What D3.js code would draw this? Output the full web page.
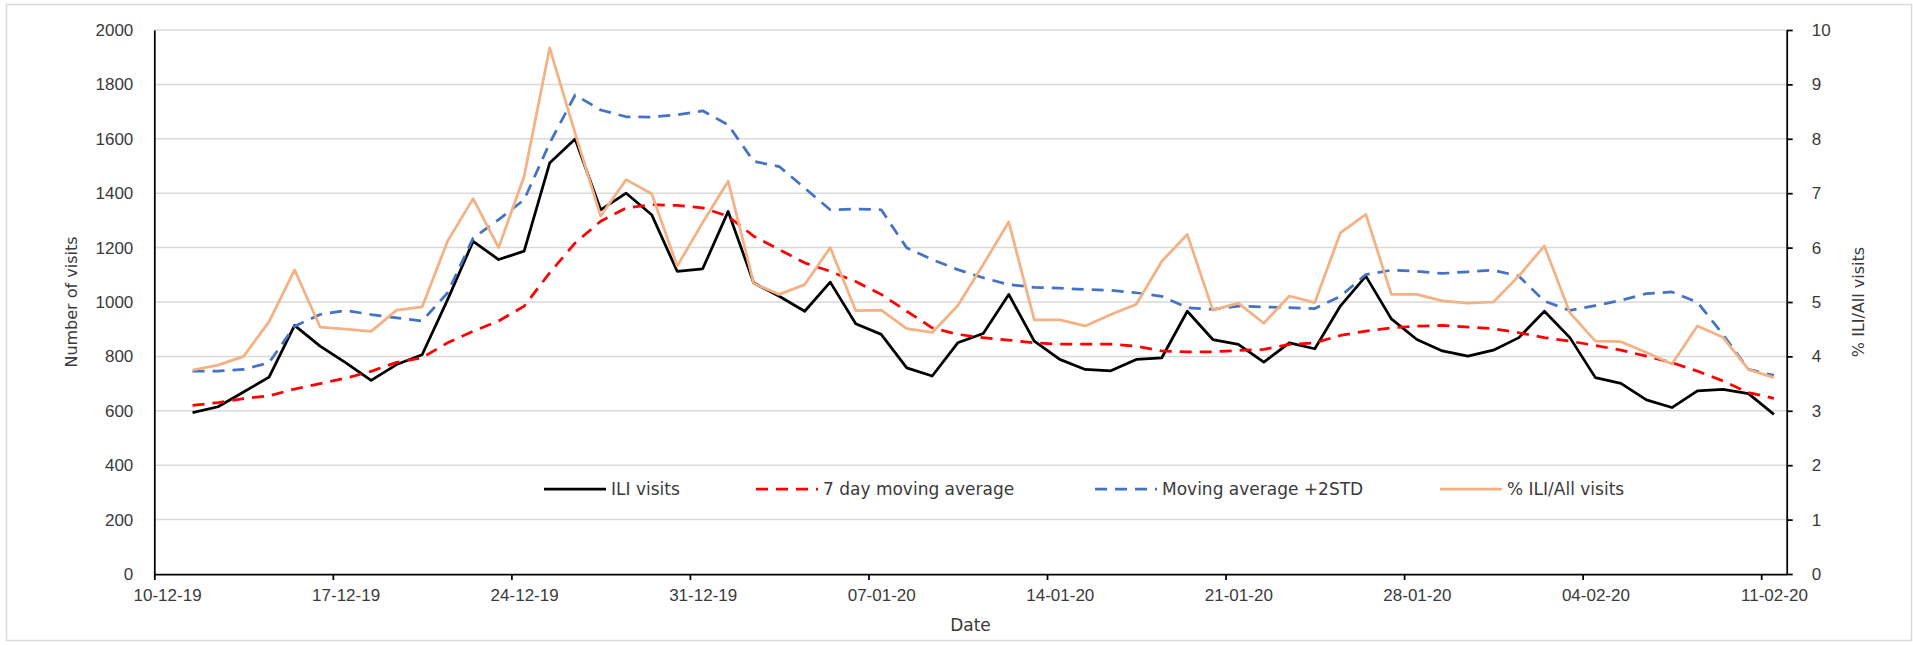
<!DOCTYPE html>
<html>
<head>
<meta charset="utf-8">
<script src="https://cdn.jsdelivr.net/npm/d3@7"></script>
<style>
	body { margin: 0; background: #fff; }
	svg { display: block; font-family: "DejaVu Sans", Verdana, sans-serif; }
</style>
</head>
<body>
<svg id="chart"></svg>
<script>
// daily values, 11-12-19 .. 11-02-20
const iliVisits = [
	593, 615, 669, 724, 914, 838, 777, 712, 770, 806,
	1009, 1223, 1156, 1187, 1511, 1599, 1339, 1400, 1321, 1113,
	1122, 1333, 1070, 1021, 966, 1073, 920, 881, 758, 728,
	850, 884, 1028, 856, 789, 752, 747, 789, 795, 966,
	862, 844, 779, 850, 828, 985, 1095, 938, 862, 820,
	801, 823, 869, 966, 869, 722, 701, 640, 612, 673,
	679, 663, 587
];

const movingAvg = [
	620, 630, 645, 655, 680, 700, 720, 745, 778, 795,
	850, 893, 930, 985, 1107, 1217, 1297, 1346, 1358, 1355,
	1346, 1315, 1242, 1193, 1144, 1113, 1075, 1028, 966, 905,
	881, 869, 860, 850, 845, 845, 845, 838, 820, 817,
	817, 822, 826, 844, 850, 877, 893, 905, 911, 914,
	908, 902, 887, 869, 856, 840, 823, 801, 777, 746,
	710, 667, 646
];

const movingAvg2Std = [
	746, 746, 752, 777, 911, 954, 969, 954, 942, 930,
	1034, 1235, 1303, 1376, 1584, 1761, 1706, 1681, 1680, 1688,
	1703, 1651, 1517, 1498, 1419, 1339, 1342, 1339, 1199, 1156,
	1119, 1089, 1064, 1054, 1051, 1046, 1043, 1034, 1021, 979,
	973, 985, 982, 979, 976, 1021, 1101, 1117, 1113, 1105,
	1111, 1117, 1095, 1003, 969, 987, 1006, 1031, 1037, 999,
	881, 752, 730
];

const pctIli = [
	3.75, 3.84, 4.0, 4.64, 5.59, 4.54, 4.5, 4.46, 4.85, 4.91,
	6.12, 6.9, 6.0, 7.31, 9.67, 8.1, 6.58, 7.25, 6.99, 5.66,
	6.46, 7.22, 5.34, 5.14, 5.32, 6.0, 4.84, 4.85, 4.51, 4.44,
	4.93, 5.69, 6.47, 4.67, 4.67, 4.56, 4.77, 4.96, 5.75, 6.24,
	4.85, 4.98, 4.61, 5.11, 4.99, 6.27, 6.61, 5.14, 5.14, 5.02,
	4.98, 5.0, 5.48, 6.03, 4.8, 4.28, 4.27, 4.07, 3.86, 4.56,
	4.35, 3.76, 3.61
];

const seriesNames = ["ILI visits", "7 day moving average", "Moving average +2STD", "% ILI/All visits"];
const leftTicks = d3.range(0, 2001, 200);
const rightTicks = d3.range(0, 11, 1);

const firstDay = new Date(2019, 11, 11);
const axisStart = new Date(2019, 11, 10);
const axisEnd = new Date(2020, 1, 12);
const tickDates = d3.range(0, 64, 7).map(d => d3.timeDay.offset(axisStart, d));

const W = 1913, H = 645;
const margin = { top: 30, right: 126.3, bottom: 71, left: 154.3 };

// points sit in the middle of their day
let dates = iliVisits.map((v, i) => d3.timeHour.offset(d3.timeDay.offset(firstDay, i), 12));

function draw() {
	let svg = d3.select("#chart")
		.attr("width", W)
		.attr("height", H);

	// chart area border
	svg.append("rect")
		.attr("x", 6.5).attr("y", 4.5)
		.attr("width", 1905).attr("height", 636)
		.attr("fill", "#fff")
		.attr("stroke", "#d9d9d9")
		.attr("stroke-width", 1.5);

	let x = d3.scaleTime()
		.domain([axisStart, axisEnd])
		.range([margin.left, W - margin.right]);

	let y = d3.scaleLinear()
		.domain([0, 2000])
		.range([H - margin.bottom, margin.top]);

	let y2 = d3.scaleLinear()
		.domain([0, 10])
		.range([H - margin.bottom, margin.top]);

	// gridlines
	svg.append("g")
		.selectAll("line")
		.data(leftTicks.filter(d => d > 0))
		.join("line")
		.attr("x1", margin.left).attr("x2", W - margin.right)
		.attr("y1", d => y(d)).attr("y2", d => y(d))
		.attr("stroke", "#d9d9d9")
		.attr("stroke-width", 1.5);

	let halfDay = x(d3.timeHour.offset(axisStart, 12)) - x(axisStart);

	let xAxis = g => g
		.attr("transform", "translate(0," + (H - margin.bottom) + ")")
		.call(d3.axisBottom(x)
			.tickValues(tickDates)
			.tickSize(6)
			.tickSizeOuter(0)
			.tickPadding(9)
			.tickFormat(d3.timeFormat("%d-%m-%y")))
		.call(g => g.selectAll("text").attr("x", halfDay));

	let yAxis = g => g
		.attr("transform", "translate(" + margin.left + ",0)")
		.call(d3.axisLeft(y)
			.tickValues(leftTicks)
			.tickFormat(d3.format("d"))
			.tickSize(0)
			.tickPadding(21));

	let y2Axis = g => g
		.attr("transform", "translate(" + (W - margin.right) + ",0)")
		.call(d3.axisRight(y2)
			.tickValues(rightTicks)
			.tickFormat(d3.format("d"))
			.tickSize(6)
			.tickSizeOuter(0)
			.tickPadding(19));

	[xAxis, yAxis, y2Axis].forEach(ax => {
		svg.append("g")
			.call(ax)
			.call(g => g.selectAll(".domain, line").attr("stroke", "#000").attr("stroke-width", 1.75))
			.call(g => g.selectAll("text").attr("fill", "#3a3a3a").attr("font-size", 17).attr("font-family", null));
	});

	// axis titles
	svg.append("text")
		.attr("x", (margin.left + W - margin.right) / 2)
		.attr("y", 631)
		.attr("text-anchor", "middle")
		.attr("font-size", 17)
		.attr("fill", "#3a3a3a")
		.text("Date");

	svg.append("text")
		.attr("transform", "translate(77," + (H - margin.bottom + margin.top) / 2 + ") rotate(-90)")
		.attr("text-anchor", "middle")
		.attr("font-size", 16)
		.attr("fill", "#3a3a3a")
		.text("Number of visits");

	svg.append("text")
		.attr("transform", "translate(1864," + (H - margin.bottom + margin.top) / 2 + ") rotate(-90)")
		.attr("text-anchor", "middle")
		.attr("font-size", 16)
		.attr("fill", "#3a3a3a")
		.text("% ILI/All visits");

	let series = [
		{ name: seriesNames[0], values: iliVisits, scale: y, color: "#000000", dash: null },
		{ name: seriesNames[1], values: movingAvg, scale: y, color: "#ff0000", dash: "12,8" },
		{ name: seriesNames[2], values: movingAvg2Std, scale: y, color: "#4472c4", dash: "12,8" },
		{ name: seriesNames[3], values: pctIli, scale: y2, color: "#f4b183", dash: null }
	];

	series.forEach(s => {
		let line = d3.line()
			.x((d, i) => x(dates[i]))
			.y(d => s.scale(d));
		svg.append("path")
			.datum(s.values)
			.attr("fill", "none")
			.attr("stroke", s.color)
			.attr("stroke-width", 2.75)
			.attr("stroke-linejoin", "round")
			.attr("stroke-dasharray", s.dash)
			.attr("d", line);
	});

	// legend
	const legendX = [544, 756, 1095, 1440];
	let legend = svg.append("g")
		.attr("transform", "translate(0,489)");
	series.forEach((s, i) => {
		legend.append("line")
			.attr("x1", legendX[i]).attr("x2", legendX[i] + 62)
			.attr("y1", 0).attr("y2", 0)
			.attr("stroke", s.color)
			.attr("stroke-width", 2.75)
			.attr("stroke-dasharray", s.dash);
		legend.append("text")
			.attr("x", legendX[i] + 67)
			.attr("y", 0)
			.attr("dy", "0.35em")
			.attr("font-size", 17)
			.attr("fill", "#3a3a3a")
			.text(s.name);
	});
}

draw();
</script>
</body>
</html>
